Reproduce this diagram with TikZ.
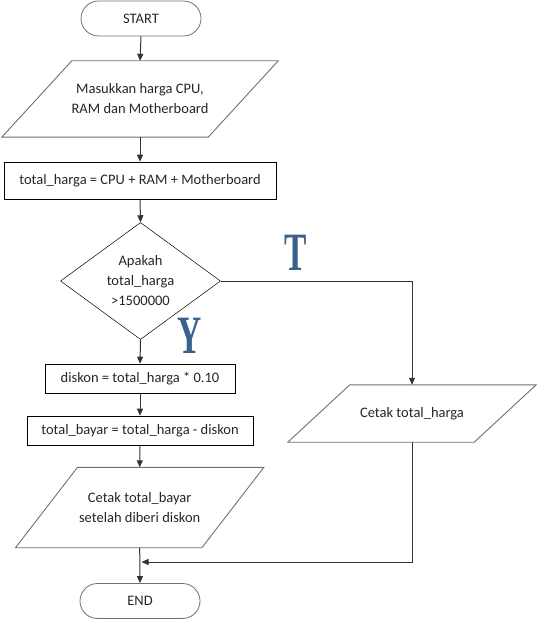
\documentclass[tikz,border=0pt]{standalone}
\usepackage{fontspec}
\setmainfont{Carlito}
\newfontfamily\markfont{Liberation Serif}
\usetikzlibrary{arrows.meta, shapes.geometric, shapes.misc}
\definecolor{linegray}{RGB}{112,112,112}
\definecolor{flowgray}{RGB}{50,50,50}
\definecolor{markblue}{RGB}{58,96,140}

\begin{document}
\begin{tikzpicture}[x=1pt,y=-1pt,
    font=\fontsize{14.5}{20}\selectfont, text=black!85,
    terminal/.style={draw=linegray,line width=0.8pt,rounded rectangle,minimum width=120pt,minimum height=35pt,inner sep=0pt},
    ioedge/.style={draw=linegray,line width=0.9pt},
    io/.style n args={3}{minimum width=#1,minimum height=#2,inner sep=0pt,align=center,
        append after command={\pgfextra{\draw[ioedge] ([xshift=-0.5*#3]\tikzlastnode.south west) -- ([xshift=-0.5*#3]\tikzlastnode.south east) -- ([xshift=0.5*#3]\tikzlastnode.north east) -- ([xshift=0.5*#3]\tikzlastnode.north west) -- cycle;}}},
    process/.style={draw=black,line width=0.6pt,minimum height=29pt,inner sep=0pt},
    decision/.style={draw=black,line width=0.5pt,diamond,aspect=1.37,minimum width=160pt,minimum height=117pt,inner sep=0pt,align=center},
    branch/.style={text=markblue,font=\markfont\bfseries\fontsize{54}{54}\selectfont},
    flow/.style={draw=flowgray,line width=1pt,-{Triangle[length=7pt,width=6pt]}}]
    \useasboundingbox (0,0) rectangle (539,620);

    % START
    \node[terminal] (start) at (141,18.5) {START};

    % input
    \node[io={206pt}{76pt}{70}] (masuk) at (140,99) {Masukkan harga CPU,\\RAM dan Motherboard};

    % total harga
    \node[process,minimum width=272pt,minimum height=37pt] (total) at (140,180.5) {total\_harga = CPU + RAM + Motherboard};

    % decision
    \node[decision] (cek) at (140.5,281) {Apakah\\total\_harga\\>1500000};
    \node[branch] (lblT) at (296,253) {\scalebox{0.62}[1]{T}};
    \node[branch] (lblY) at (190,336) {\scalebox{0.62}[1]{Y}};

    % Y branch
    \node[process,minimum width=190pt] (diskon) at (140,378.5) {diskon = total\_harga * 0.10};
    \node[process,minimum width=226pt] (bayar) at (140,430.5) {total\_bayar = total\_harga - diskon};
    \node[io={186pt}{80pt}{62}] (cetakbayar) at (139.7,507.5) {Cetak total\_bayar\\setelah diberi diskon};

    % T branch
    \node[io={186pt}{57pt}{62}] (cetakharga) at (412,413.5) {Cetak total\_harga};

    % END
    \node[terminal] (end) at (140,601) {END};
    \coordinate (merge) at (141.5,562);

    % Arrows
    \draw[flow] (start.south) -- (masuk.north);
    \draw[flow] (masuk.south) -- (total.north);
    \draw[flow] (total.south) -- (cek.north);
    \draw[flow] (cek.south) -- (diskon.north);
    \draw[flow] (diskon.south) -- (bayar.north);
    \draw[flow] (bayar.south) -- (cetakbayar.north);
    \draw[flow] (cek.east) -| (cetakharga.north);
    \draw[flow] (cetakharga.south) |- (merge);
    \draw[flow] (cetakbayar.south) -- (end.north);
\end{tikzpicture}
\end{document}
